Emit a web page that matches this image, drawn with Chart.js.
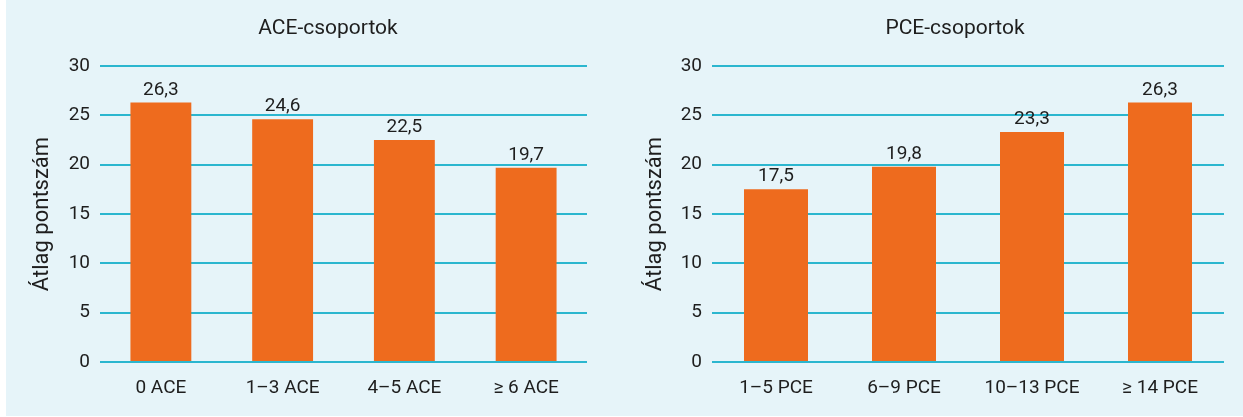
<!DOCTYPE html>
<html lang="hu">
<head>
<meta charset="UTF-8">
<title>ACE- és PCE-csoportok</title>
<script src="https://cdn.jsdelivr.net/npm/chart.js"></script>
<style>
    body { margin: 0; background: #fff; width: 1243px; height: 417px; overflow: hidden; position: relative; }
    #hatter { position: absolute; left: 6px; top: 0; width: 1237px; height: 416px; background: #e6f4f9; }
    .doboz { position: absolute; top: 0; height: 416px; }
    #doboz1 { left: 6px; width: 614px; }
    #doboz2 { left: 620px; width: 623px; }
</style>
</head>
<body>
<div id="hatter"></div>
<div class="doboz" id="doboz1"><canvas id="grafikon1"></canvas></div>
<div class="doboz" id="doboz2"><canvas id="grafikon2"></canvas></div>

<script>
    // adatok
    var aceCsoportok = ['0 ACE', '1–3 ACE', '4–5 ACE', '≥ 6 ACE'];
    var aceAtlag = [26.3, 24.6, 22.5, 19.7];
    var pceCsoportok = ['1–5 PCE', '6–9 PCE', '10–13 PCE', '≥ 14 PCE'];
    var pceAtlag = [17.5, 19.8, 23.3, 26.3];
    var yErtekek = [0, 5, 10, 15, 20, 25, 30];

    var betu = 'Roboto, "Open Sans", sans-serif';
    var szoveg = '#1e1e1e';
    var narancs = '#ee6b1e';
    var racs = '#2bb6cf';

    // értékek a hasábok fölé, tizedesvesszővel
    var ertekCimke = {
        id: 'ertekCimke',
        afterDatasetsDraw(chart) {
            var ctx = chart.ctx;
            ctx.save();
            ctx.font = '19px ' + betu;
            ctx.fillStyle = szoveg;
            ctx.textAlign = 'center';
            ctx.textBaseline = 'alphabetic';
            chart.getDatasetMeta(0).data.forEach(function (hasab, i) {
                var v = chart.data.datasets[0].data[i];
                ctx.fillText(v.toFixed(1).replace('.', ','), hasab.x, hasab.y - 8);
            });
            ctx.restore();
        }
    };

    // grafikon címe
    var cim = {
        id: 'cim',
        afterDraw(chart, args, opts) {
            var ctx = chart.ctx;
            ctx.save();
            ctx.font = '21px ' + betu;
            ctx.fillStyle = szoveg;
            ctx.textAlign = 'center';
            ctx.textBaseline = 'alphabetic';
            ctx.fillText(opts.text, opts.x, 34);
            ctx.restore();
        }
    };

    function rajzol(canvasId, cimkek, ertekek, cimSzoveg, cimX, yAxisWidth, titlePad, padRight) {
        new Chart(document.getElementById(canvasId), {
            type: 'bar',
            data: {
                labels: cimkek,
                datasets: [{
                    data: ertekek,
                    backgroundColor: narancs,
                    borderWidth: 0,
                    barPercentage: 0.5,
                    categoryPercentage: 1
                }]
            },
            options: {
                responsive: true,
                maintainAspectRatio: false,
                animation: false,
                layout: { padding: { top: 66, right: padRight, bottom: 0, left: 0 } },
                plugins: {
                    legend: { display: false },
                    tooltip: { enabled: false },
                    cim: { text: cimSzoveg, x: cimX }
                },
                scales: {
                    x: {
                        grid: { display: false },
                        border: { display: false },
                        ticks: { color: szoveg, font: { family: betu, size: 19 }, padding: 7 },
                        afterFit: function (s) { s.height = 54; }
                    },
                    y: {
                        min: 0,
                        max: 30,
                        grid: { color: racs, lineWidth: 2, drawTicks: false },
                        border: { display: false },
                        ticks: { color: szoveg, font: { family: betu, size: 19 }, padding: 10 },
                        afterBuildTicks: function (s) { s.ticks = yErtekek.map(function (v) { return { value: v }; }); },
                        title: {
                            display: true,
                            text: 'Átlag pontszám',
                            color: szoveg,
                            font: { family: betu, size: 22 },
                            padding: { top: titlePad, bottom: 0 }
                        },
                        afterFit: function (s) { s.width = yAxisWidth; }
                    }
                }
            },
            plugins: [ertekCimke, cim]
        });
    }

    rajzol('grafikon1', aceCsoportok, aceAtlag, 'ACE-csoportok', 322, 94, 23, 33);
    rajzol('grafikon2', pceCsoportok, pceAtlag, 'PCE-csoportok', 335, 92, 22, 19);
</script>
</body>
</html>
